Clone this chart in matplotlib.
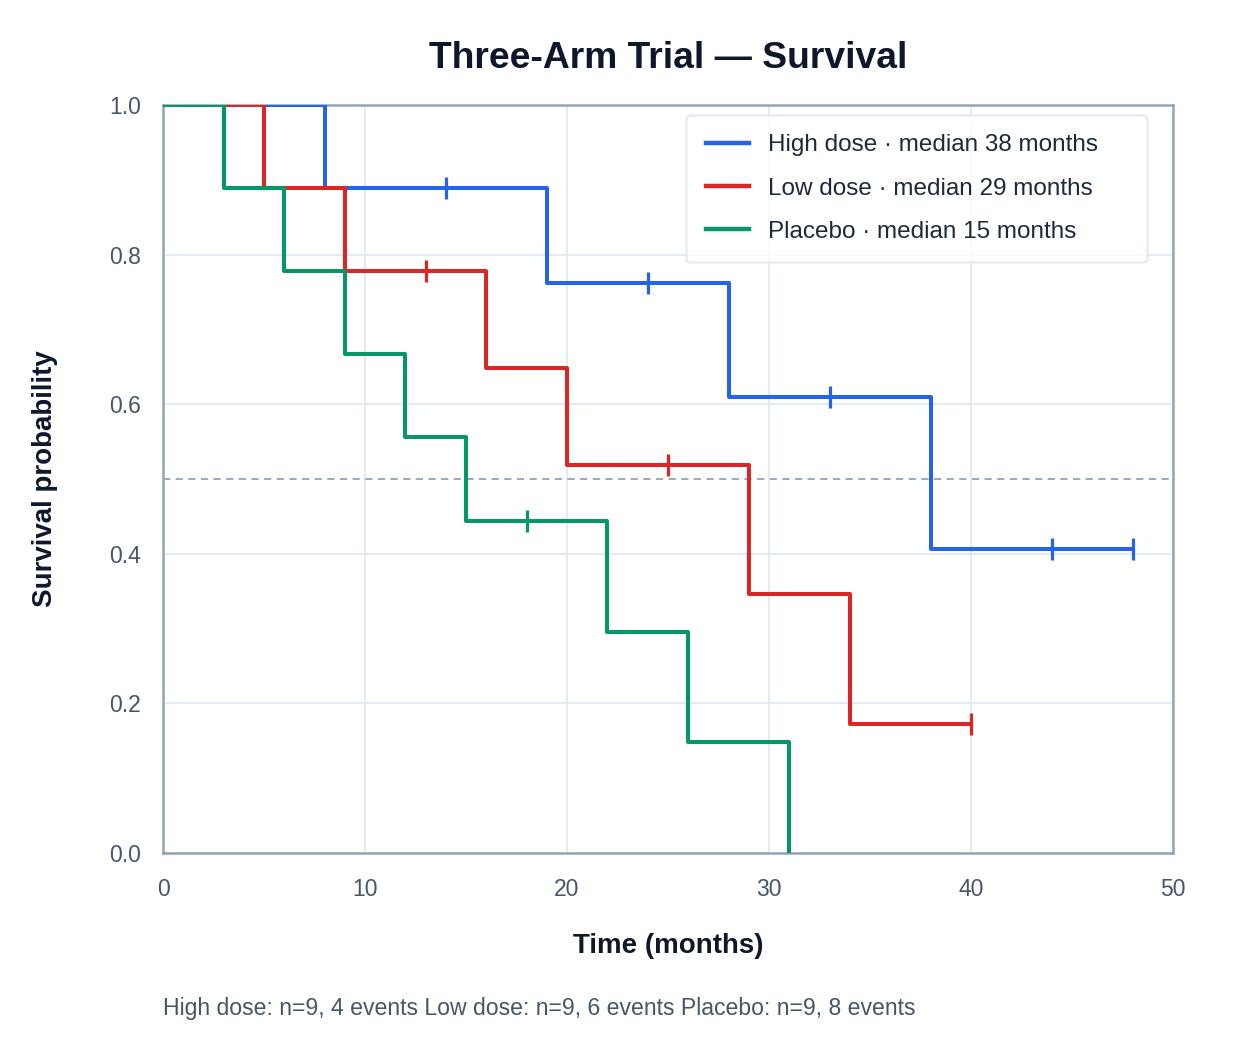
import matplotlib.pyplot as plt

plt.rcParams['font.family'] = ['Liberation Sans', 'DejaVu Sans']

# step data (time, survival after the step)
high_t = [0, 8, 19, 28, 38, 48]
high_s = [1.0, 0.889, 0.762, 0.610, 0.407, 0.407]
high_cens_t = [14, 24, 33, 44, 48]
high_cens_s = [0.889, 0.762, 0.610, 0.407, 0.407]

low_t = [0, 5, 9, 16, 20, 29, 34, 40]
low_s = [1.0, 0.889, 0.778, 0.648, 0.519, 0.346, 0.173, 0.173]
low_cens_t = [13, 25, 40]
low_cens_s = [0.778, 0.519, 0.173]

plac_t = [0, 3, 6, 9, 12, 15, 22, 26, 31]
plac_s = [1.0, 0.889, 0.778, 0.667, 0.556, 0.444, 0.296, 0.148, 0.0]
plac_cens_t = [18]
plac_cens_s = [0.444]

labels = ['High dose · median 38 months',
          'Low dose · median 29 months',
          'Placebo · median 15 months']
colors = ['#2563eb', '#dc2626', '#059669']
footer = 'High dose: n=9, 4 events Low dose: n=9, 6 events Placebo: n=9, 8 events'

fig = plt.figure(figsize=(12.4, 10.64), dpi=100)
ax = fig.add_axes([0.1315, 0.1983, 0.8145, 0.703])

series = [(high_t, high_s, high_cens_t, high_cens_s),
          (low_t, low_s, low_cens_t, low_cens_s),
          (plac_t, plac_s, plac_cens_t, plac_cens_s)]

for (t, s, ct, cs), lab, c in zip(series, labels, colors):
    ax.step(t, s, where='post', color=c, lw=2.9, label=lab, zorder=3)
    ax.plot(ct, cs, ls='none', marker='|', ms=16, mew=2.3, color=c, zorder=4)

ax.axhline(0.5, color='#94a3b8', lw=1.3, ls=(0, (4, 3)), zorder=2)

ax.set_xlim(0, 50)
ax.set_ylim(0, 1.0)
ax.set_xticks([0, 10, 20, 30, 40, 50])
ax.set_yticks([0, 0.2, 0.4, 0.6, 0.8, 1.0])
ax.set_yticklabels(['0.0', '0.2', '0.4', '0.6', '0.8', '1.0'])
ax.grid(True, color='#e2e8f0', lw=1.3, zorder=0)
ax.set_axisbelow(True)
for sp in ax.spines.values():
    sp.set_color('#94a3b8')
    sp.set_linewidth(1.8)
ax.tick_params(length=0, labelsize=16.5, labelcolor='#475569')
ax.tick_params(axis='x', pad=18)
ax.tick_params(axis='y', pad=16)

ax.set_xlabel('Time (months)', fontsize=20, fontweight='bold', color='#0f172a', labelpad=23)
ax.set_ylabel('Survival probability', fontsize=20, fontweight='bold', color='#0f172a', labelpad=37)
ax.set_title('Three-Arm Trial — Survival', fontsize=26.8, fontweight='bold', color='#0f172a', pad=27)

# legend box spans a fixed region in the upper right
leg = ax.legend(loc='upper left', bbox_to_anchor=(0.518, 0.5, 0.456, 0.487), mode='expand',
                fontsize=17.5, frameon=True, fancybox=True, borderpad=0.8, labelspacing=0.88,
                handlelength=1.8, handletextpad=0.75, borderaxespad=0)
leg.get_frame().set_edgecolor('#e2e8f0')
leg.get_frame().set_linewidth(1.8)
for line in leg.get_lines():
    line.set_linewidth(3.2)
for txt in leg.get_texts():
    txt.set_color('#1e293b')

fig.text(0.1315, 0.0526, footer, fontsize=16.6, color='#475569', ha='left', va='center')

fig.savefig('out.png', dpi=100, facecolor='white')
